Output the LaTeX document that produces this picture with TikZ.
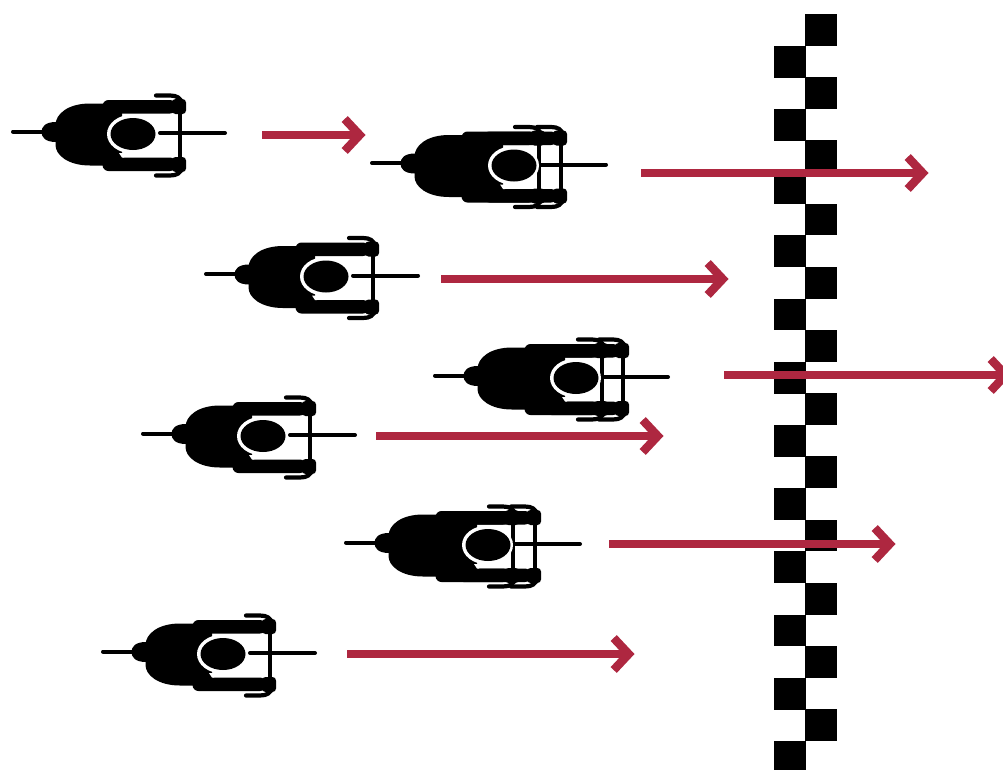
\documentclass[tikz,border=0pt]{standalone}
\usetikzlibrary{arrows.meta}
\definecolor{crimson}{HTML}{AE2740}
\tikzset{
  spoke/.style={line width=4pt,line cap=round,black},
  bar/.style={line width=4pt,line cap=butt,black},
  hood/.style={line width=4.2pt,line cap=round,black},
  square/.style={fill=black,draw=none},
  move/.style={line width=7.6pt,crimson,-{Straight Barb[length=15pt,width=32pt,line width=8.5pt]}},
  rider/.pic={
    % wheels
    \draw[spoke] (13,131.5) -- (44,131.5);
    \draw[spoke] (160,133) -- (225,133);
    % saddle bump
    \fill[black] (56,122) .. controls (45,122) and (41.5,127) .. (41.5,132)
      .. controls (41.5,137) and (45,142) .. (56,142) -- cycle;
    % torso
    \fill[black] (90,103.5) -- (122,103.5) -- (122,157) -- (124,158) -- (122,165.5) -- (90,165.5)
      .. controls (68,165.5) and (55.5,155) .. (55.5,145) -- (55.5,125)
      .. controls (55.5,114) and (68,103.5) .. (90,103.5) -- cycle;
    % white ring round the head
    \fill[white] (132.5,134) ellipse [x radius=25.5,y radius=19.5];
    % arms
    \fill[black, rounded corners=6pt] (102.5,116) -- (102.5,100) -- (176,100) -- (176,113.5) -- (102.5,113.5) -- cycle;
    \fill[black, rounded corners=6pt] (102.5,155) -- (102.5,171) -- (176,171) -- (176,157.5) -- (102.5,157.5) -- cycle;
    \fill[white] (124,157.5) -- (122,157.5) -- (119,153) -- (124,153) -- cycle;
    % head
    \fill[black] (133,134) ellipse [x radius=22.5,y radius=16];
    % handlebar
    \draw[bar] (180,100) -- (180,171);
    \fill[black, rounded corners=3.5pt] (172,99) rectangle (186,114);
    \fill[black, rounded corners=3.5pt] (172,157) rectangle (186,172);
    % brake hoods
    \draw[hood] (156,95.5) -- (170,95.5) .. controls (177,95.5) and (181,98) .. (182,104);
    \draw[hood] (156,175.5) -- (170,175.5) .. controls (177,175.5) and (181,173) .. (182,167);
  }
}
\begin{document}
\begin{tikzpicture}[x=1pt,y=-1pt]
\useasboundingbox (0,0) rectangle (1003,769);
\clip (0,0) rectangle (1003,769);
% finish line
\foreach \t in {14,77.2,140.4,203.6,266.8,330,393.2,456.4,519.6,582.8,646,709.2}
  \fill[square] (805,\t) rectangle +(32,31.8);
\foreach \t in {46,109.2,172.4,235.4,298.6,362,425.2,488.4,551.4,614.6,678,741.2}
  \fill[square] (774,\t) rectangle +(31.8,31.8);
% riders
\pic at (0,0) {rider};
\pic at (359,31.5) {rider};
\pic at (381,31.5) {rider};
\pic at (193,142.5) {rider};
\pic at (422,244) {rider};
\pic at (443,244) {rider};
\pic at (130,302) {rider};
\pic at (333,411) {rider};
\pic at (355,411) {rider};
\pic at (90,520) {rider};
% arrows
\coordinate (a1s) at (262,135);  \coordinate (a1e) at (365.5,135);
\coordinate (a2s) at (641,173);  \coordinate (a2e) at (928.5,173);
\coordinate (a3s) at (441,279);  \coordinate (a3e) at (728.5,279);
\coordinate (a4s) at (724,375);  \coordinate (a4e) at (1011.5,375);
\coordinate (a5s) at (376,436);  \coordinate (a5e) at (663.5,436);
\coordinate (a6s) at (609,544);  \coordinate (a6e) at (895.5,544);
\coordinate (a7s) at (347,654);  \coordinate (a7e) at (634.5,654);
\foreach \n in {1,...,7}
  \draw[move] (a\n s) -- (a\n e);
\end{tikzpicture}
\end{document}
